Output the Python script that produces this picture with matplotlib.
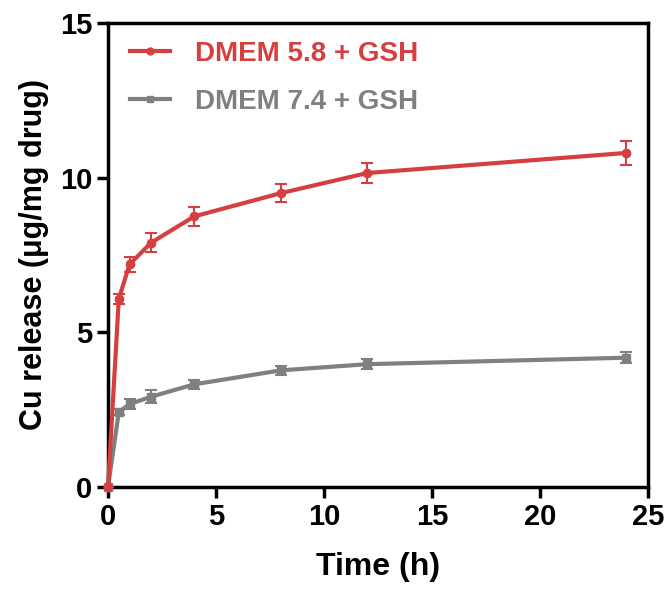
import numpy as np
import matplotlib.pyplot as plt
from matplotlib.lines import Line2D

plt.rcParams['font.family'] = ['Liberation Sans', 'DejaVu Sans']

t = [0, 0.5, 1, 2, 4, 8, 12, 24]
ph58 = [0, 6.08, 7.2, 7.9, 8.75, 9.5, 10.15, 10.8]
ph58_err = [0, 0.15, 0.25, 0.3, 0.3, 0.28, 0.32, 0.38]
ph74 = [0, 2.42, 2.68, 2.92, 3.32, 3.77, 3.97, 4.18]
ph74_err = [0, 0.1, 0.15, 0.2, 0.15, 0.15, 0.17, 0.18]
labels = ['DMEM 5.8 + GSH', 'DMEM 7.4 + GSH']

red = '#d63f3f'
grey = '#808080'

fig = plt.figure(figsize=(6.65, 5.9), dpi=100)
ax = fig.add_axes([0.1624, 0.1746, 0.812, 0.7864])

for y, e, c, m, z in [(ph74, ph74_err, grey, 's', 2), (ph58, ph58_err, red, 'o', 3)]:
    line, caps, bars = ax.errorbar(t, y, yerr=e, color=c, lw=3, marker=m, ms=6,
                                   capsize=4, elinewidth=1.5, capthick=1.5, zorder=z)
    line.set_clip_on(False)

ax.set_xlim(0, 25)
ax.set_ylim(0, 15)
ax.set_xticks([0, 5, 10, 15, 20, 25])
ax.set_yticks([0, 5, 10, 15])
for s in ax.spines.values():
    s.set_linewidth(2.5)
ax.tick_params(width=2.5, length=8, direction='out', labelsize=21)
for lab in ax.get_xticklabels() + ax.get_yticklabels():
    lab.set_fontweight('bold')

ax.set_xlabel('Time (h)', fontsize=23, fontweight='bold', labelpad=15)
ax.set_ylabel('Cu release (μg/mg drug)', fontsize=22, fontweight='bold', labelpad=8)

# legend handles without the error bars
handles = [Line2D([], [], color=red, lw=3, marker='o', ms=5),
           Line2D([], [], color=grey, lw=3, marker='s', ms=5)]
leg = ax.legend(handles, labels, loc='upper left', bbox_to_anchor=(0.04, 0.962),
                frameon=False, handlelength=1.45, handletextpad=0.9,
                borderpad=0, borderaxespad=0, labelspacing=0.8,
                prop={'weight': 'bold', 'size': 20})
for txt, c in zip(leg.get_texts(), [red, grey]):
    txt.set_color(c)

fig.savefig('out.png', dpi=100)
